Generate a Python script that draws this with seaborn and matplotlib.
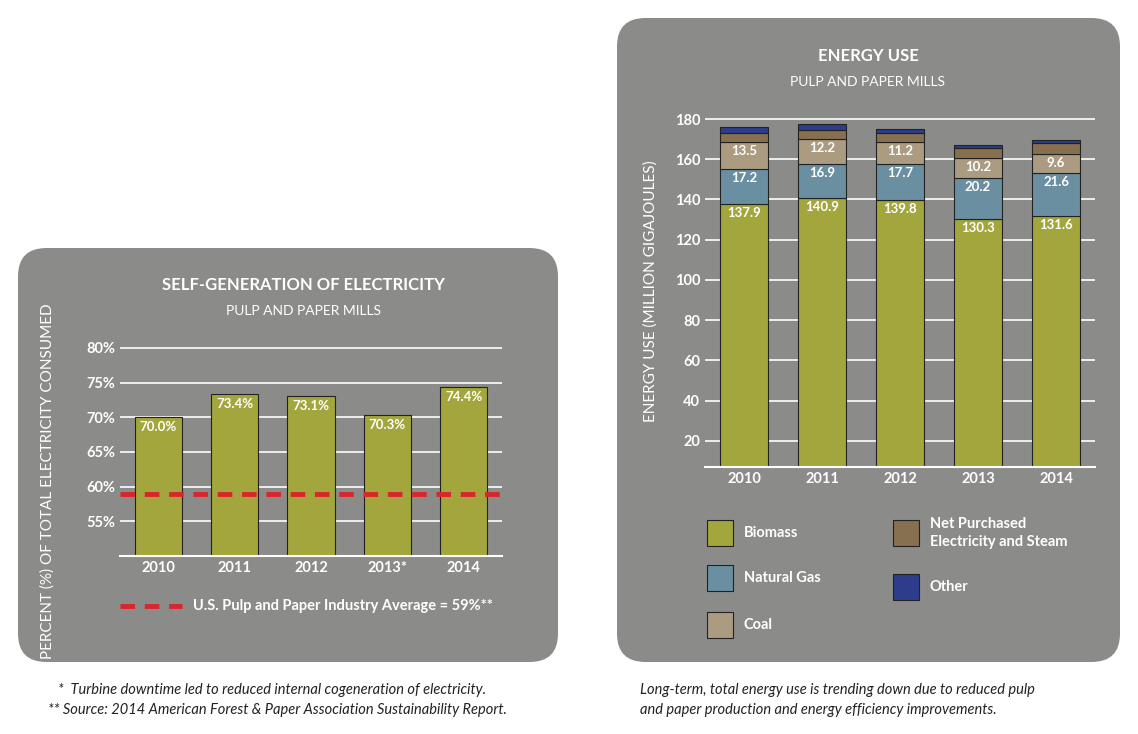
import numpy as np
import matplotlib
matplotlib.use("Agg")
import matplotlib.pyplot as plt
import seaborn as sns
from matplotlib.patches import FancyBboxPatch, Rectangle
from matplotlib.lines import Line2D

# data
years_left = ["2010", "2011", "2012", "2013*", "2014"]
self_gen = [70.0, 73.4, 73.1, 70.3, 74.4]
industry_avg = 59

years_right = ["2010", "2011", "2012", "2013", "2014"]
biomass = [137.9, 140.9, 139.8, 130.3, 131.6]
natural_gas = [17.2, 16.9, 17.7, 20.2, 21.6]
coal = [13.5, 12.2, 11.2, 10.2, 9.6]
net_purchased = [4.5, 4.5, 4.5, 5.0, 5.5]
other = [3.0, 3.0, 2.0, 1.5, 1.5]

sns.set_style("white")
plt.rcParams["font.family"] = ["Lato", "DejaVu Sans"]

PANEL = "#8b8c8a"
OLIVE = "#a2a63c"
BLUE = "#6a8fa1"
COAL = "#aa9b81"
BROWN = "#87704f"
NAVY = "#2d3d8c"
W = 1138
H = 734

fig = plt.figure(figsize=(11.38, 7.34), dpi=100)
fig.patch.set_facecolor("white")

def panel(x0, y0, x1, y1):
    p = FancyBboxPatch((x0 / W, 1 - y1 / H), (x1 - x0) / W, (y1 - y0) / H,
                       boxstyle="round,pad=0,rounding_size=0.025",
                       transform=fig.transFigure, facecolor=PANEL, edgecolor="none",
                       mutation_aspect=W / H, zorder=-5)
    fig.patches.append(p)

panel(18, 248, 558, 662)
panel(617, 18, 1120, 662)

def style_ax(ax):
    ax.set_facecolor("none")
    for s in ["top", "right", "left"]:
        ax.spines[s].set_visible(False)
    ax.spines["bottom"].set_color("white")
    ax.spines["bottom"].set_linewidth(1.5)
    ax.grid(axis="y", color="white", linewidth=1.2)
    ax.set_axisbelow(True)
    ax.tick_params(length=0, colors="white", labelsize=10.5)
    for t in ax.get_xticklabels() + ax.get_yticklabels():
        t.set_fontweight("bold")

# =========================
# left chart
# =========================
ax1 = fig.add_axes([120 / W, 1 - 556 / H, 382 / W, 215 / H])
sns.barplot(x=years_left, y=self_gen, color=OLIVE, saturation=1, width=0.62,
            edgecolor="#222222", linewidth=0.8, ax=ax1)
ax1.set_ylim(50, 81)
ax1.set_yticks([55, 60, 65, 70, 75, 80])
ax1.set_yticklabels([f"{v}%" for v in [55, 60, 65, 70, 75, 80]])
ax1.axhline(industry_avg, color="#d9252b", linestyle=(0, (3, 2)), linewidth=3.5, zorder=5)
for i, v in enumerate(self_gen):
    ax1.text(i, v - 0.6, f"{v:.1f}%", ha="center", va="top", color="white",
             fontsize=9.5, fontweight="bold")
ax1.set_ylabel("PERCENT (%) OF TOTAL ELECTRICITY CONSUMED", color="white", fontsize=11)
style_ax(ax1)
ax1.yaxis.set_label_coords(-0.17, 0.35)

fig.text(303 / W, 1 - 285 / H, "SELF-GENERATION OF ELECTRICITY", ha="center", va="center",
         color="white", fontsize=12, fontweight="bold")
fig.text(303 / W, 1 - 311 / H, "PULP AND PAPER MILLS", ha="center", va="center",
         color="white", fontsize=10)
fig.add_artist(Line2D([120 / W, 182 / W], [1 - 606 / H] * 2, color="#d9252b",
                      linestyle=(0, (3, 2)), linewidth=3.5))
fig.text(193 / W, 1 - 606 / H, "U.S. Pulp and Paper Industry Average = 59%**",
         va="center", color="white", fontsize=10.5, fontweight="bold")

# =========================
# right chart
# =========================
ax2 = fig.add_axes([705 / W, 1 - 467 / H, 390 / W, 352 / H])
layers = [(biomass, OLIVE), (natural_gas, BLUE), (coal, COAL),
          (net_purchased, BROWN), (other, NAVY)]
bottom = np.zeros(5)
for vals, col in layers:
    sns.barplot(x=years_right, y=vals, bottom=bottom, color=col, saturation=1,
                width=0.62, edgecolor="#222222", linewidth=0.8, ax=ax2)
    bottom = bottom + np.array(vals)
b = np.zeros(5)
for vals, _ in layers[:3]:
    for i, v in enumerate(vals):
        ax2.text(i, b[i] + v - 1.5, f"{v}", ha="center", va="top", color="white",
                 fontsize=9.5, fontweight="bold")
    b = b + np.array(vals)
ax2.set_ylim(7, 182)
ax2.set_yticks(range(20, 181, 20))
ax2.set_ylabel("ENERGY USE (MILLION GIGAJOULES)", color="white", fontsize=11)
style_ax(ax2)
ax2.yaxis.set_label_coords(-0.12, 0.5)

fig.text(868 / W, 1 - 56 / H, "ENERGY USE", ha="center", va="center",
         color="white", fontsize=12, fontweight="bold")
fig.text(868 / W, 1 - 82 / H, "PULP AND PAPER MILLS", ha="center", va="center",
         color="white", fontsize=10)

legend_items = [(707, 533, OLIVE, "Biomass"), (707, 578, BLUE, "Natural Gas"),
                (707, 625, COAL, "Coal"),
                (893, 533, BROWN, "Net Purchased\nElectricity and Steam"),
                (893, 587, NAVY, "Other")]
for x, y, col, lab in legend_items:
    fig.add_artist(Rectangle((x / W, 1 - (y + 13) / H), 26 / W, 26 / H, facecolor=col,
                             edgecolor="#222222", linewidth=0.8, transform=fig.transFigure))
    fig.text((x + 37) / W, 1 - y / H, lab, va="center", color="white",
             fontsize=10.5, fontweight="bold", linespacing=1.3)

# footnotes
fig.text(58 / W, 1 - 690 / H,
         "*  Turbine downtime led to reduced internal cogeneration of electricity.",
         color="#222222", fontsize=10.5, style="italic", va="center")
fig.text(48 / W, 1 - 710 / H,
         "** Source: 2014 American Forest & Paper Association Sustainability Report.",
         color="#222222", fontsize=10.5, style="italic", va="center")
fig.text(640 / W, 1 - 690 / H,
         "Long-term, total energy use is trending down due to reduced pulp",
         color="#222222", fontsize=10.5, style="italic", va="center")
fig.text(640 / W, 1 - 710 / H,
         "and paper production and energy efficiency improvements.",
         color="#222222", fontsize=10.5, style="italic", va="center")

fig.savefig("out.png", dpi=100)
